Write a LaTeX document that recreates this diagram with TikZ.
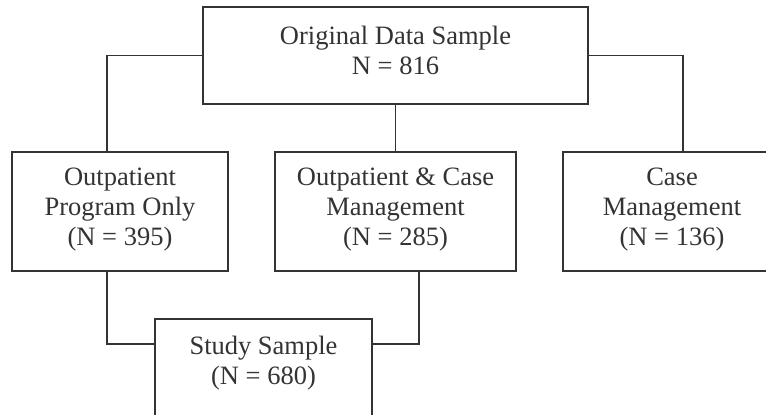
\documentclass[tikz,border=0pt]{standalone}
\usepackage{fontspec}
\setmainfont{Liberation Serif}
\definecolor{ink}{HTML}{333333}
\tikzset{
  boxshape/.style={draw=ink, line width=1.4pt, rectangle, inner sep=0pt},
  boxtext/.style={text=ink, align=center, inner sep=0pt, font=\fontsize{26.5}{30}\selectfont},
  link/.style={draw=ink, line width=1.4pt, line join=miter}
}
\begin{document}
\begin{tikzpicture}[x=1pt,y=-1pt]
\useasboundingbox (0,0) rectangle (766,415);
\clip (0,0) rectangle (766,415);
% boxes
\node[boxshape, minimum width=385pt, minimum height=97pt] (top) at (395.5,55.5) {};
\node[boxshape, minimum width=216pt, minimum height=119pt] (left) at (120,211.5) {};
\node[boxshape, minimum width=241pt, minimum height=119pt] (mid) at (395.5,211.5) {};
\node[boxshape, minimum width=218pt, minimum height=119pt] (right) at (672,211.5) {};
\node[boxshape, minimum width=217pt, minimum height=101pt] (bot) at (263.5,369.5) {};
% texts
\node[boxtext] (toptext) at (395.5,50) {Original Data Sample\\N = 816};
\node[boxtext] (lefttext) at (120,210) {Outpatient\\Program Only\\(N = 395)};
\node[boxtext] (midtext) at (395.5,210) {Outpatient \& Case\\Management\\(N = 285)};
\node[boxtext] (righttext) at (672,210) {Case\\Management\\(N = 136)};
\node[boxtext] (bottext) at (263.5,363.5) {Study Sample\\(N = 680)};
% connector points
\coordinate (ltop) at (107,152);
\coordinate (rtop) at (683,152);
\coordinate (lbot) at (107,271);
\coordinate (mbot) at (419,271);
\coordinate (bl) at (155,344);
\coordinate (br) at (372,344);
% connectors
\draw[link] (top.west) -| (ltop);
\draw[link] (top.south) -- (mid.north);
\draw[link] (top.east) -| (rtop);
\draw[link] (lbot) |- (bl);
\draw[link] (mbot) |- (br);
\end{tikzpicture}
\end{document}
